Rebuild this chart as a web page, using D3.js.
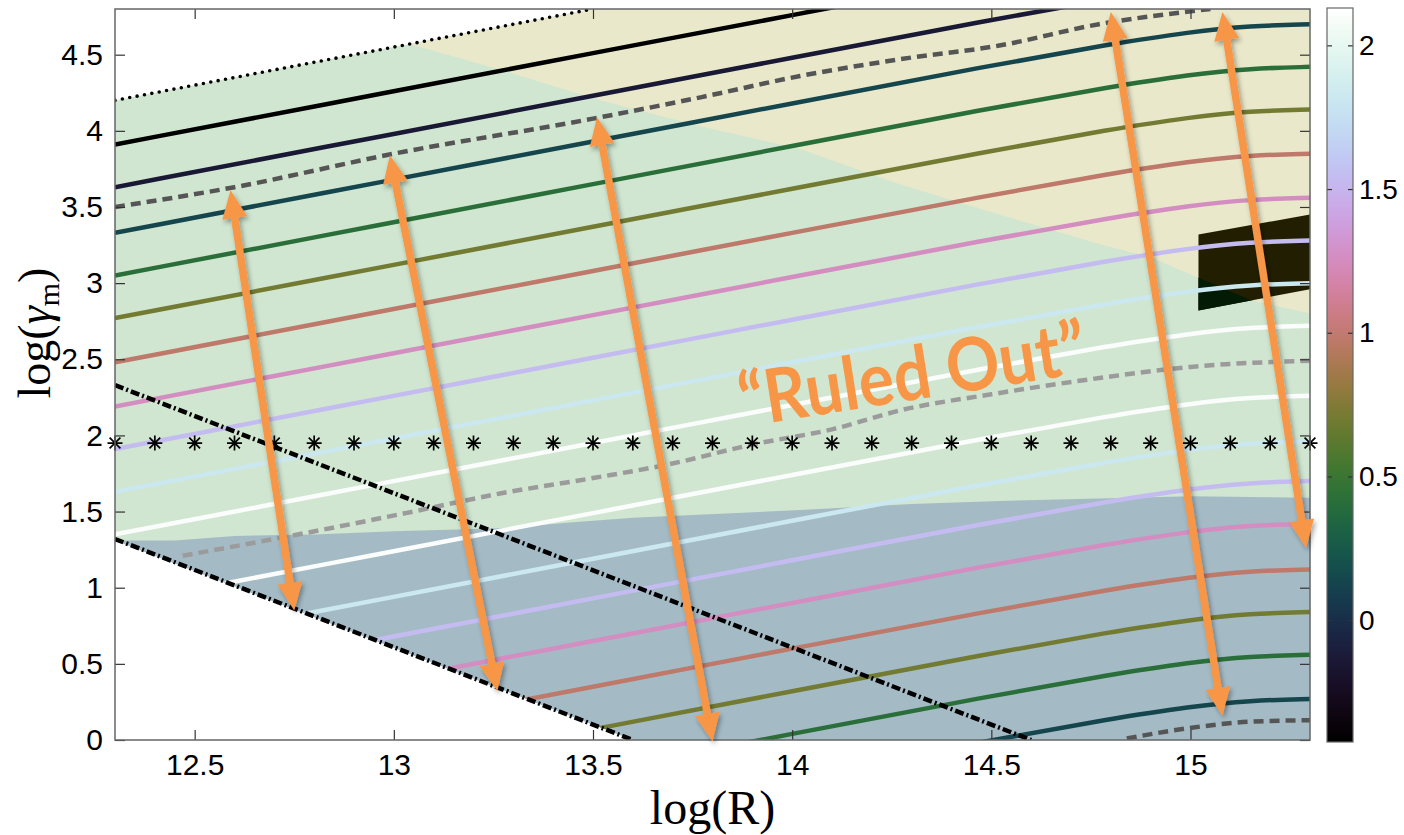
<!DOCTYPE html>
<html>
<head>
<meta charset="utf-8">
<script src="https://cdn.jsdelivr.net/npm/d3@7"></script>
<style>
  body { margin: 0; background: #fff; }
  svg { display: block; }
</style>
</head>
<body>
<div id="chart"></div>
<script>
// ---- data ----
const xTicks = [12.5, 13, 13.5, 14, 14.5, 15];
const yTicks = [0, 0.5, 1, 1.5, 2, 2.5, 3, 3.5, 4, 4.5];
const cTicks = [0, 0.5, 1, 1.5, 2];
const cRange = [-0.424, 2.13];

// contour lines: colour value + logGamma at the shared logR grid
const xGrid = [12.3, 13.0, 13.5, 14.0, 14.5, 14.8, 15.0, 15.15, 15.3];
const contourLevels = [-0.42, -0.14, 0.14, 0.42, 0.70, 0.98, 1.26, 1.54, 1.82, 2.10,
                       2.10, 1.82, 1.54, 1.26, 0.98, 0.70, 0.42, 0.14];
const contourY = [
  [3.91, 4.26, 4.51, 4.76, 5.01, 5.15, 5.23, 5.27, 5.28],
  [3.63, 3.98, 4.23, 4.48, 4.73, 4.87, 4.95, 4.99, 5.00],
  [3.33, 3.68, 3.93, 4.18, 4.43, 4.57, 4.65, 4.69, 4.70],
  [3.05, 3.40, 3.65, 3.90, 4.15, 4.29, 4.37, 4.41, 4.42],
  [2.77, 3.12, 3.37, 3.62, 3.87, 4.01, 4.09, 4.13, 4.14],
  [2.48, 2.83, 3.08, 3.33, 3.58, 3.72, 3.80, 3.84, 3.85],
  [2.19, 2.54, 2.79, 3.04, 3.29, 3.43, 3.51, 3.55, 3.56],
  [1.91, 2.26, 2.51, 2.76, 3.01, 3.15, 3.23, 3.27, 3.28],
  [1.63, 1.98, 2.23, 2.48, 2.73, 2.87, 2.95, 2.99, 3.00],
  [1.35, 1.70, 1.95, 2.20, 2.45, 2.59, 2.67, 2.71, 2.72],
  [0.89, 1.24, 1.49, 1.74, 1.99, 2.13, 2.21, 2.25, 2.26],
  [0.59, 0.94, 1.19, 1.44, 1.69, 1.83, 1.91, 1.95, 1.96],
  [0.33, 0.68, 0.93, 1.18, 1.43, 1.57, 1.65, 1.69, 1.70],
  [0.05, 0.40, 0.65, 0.90, 1.15, 1.29, 1.37, 1.41, 1.42],
  [-0.25, 0.10, 0.35, 0.60, 0.85, 0.99, 1.07, 1.11, 1.12],
  [-0.53, -0.18, 0.07, 0.32, 0.57, 0.71, 0.79, 0.83, 0.84],
  [-0.81, -0.46, -0.21, 0.04, 0.29, 0.43, 0.51, 0.55, 0.56],
  [-1.10, -0.75, -0.50, -0.25, 0.00, 0.14, 0.22, 0.26, 0.27]
];

const dashedDark = [
  [[12.3, 3.50], [12.6, 3.63], [13.0, 3.85], [13.5, 4.08], [13.77, 4.22], [14.02, 4.36],
   [14.27, 4.47], [14.52, 4.56], [14.77, 4.70], [15.05, 4.80]],
  [[14.84, 0.01], [15.03, 0.09], [15.15, 0.12], [15.3, 0.13]]
];
const dashedLight = [
  [12.47, 1.21], [12.78, 1.36], [13.03, 1.49], [13.27, 1.62], [13.5, 1.72], [13.69, 1.81],
  [13.9, 1.94], [14.1, 2.04], [14.28, 2.17], [14.5, 2.27], [14.78, 2.38], [15.0, 2.45], [15.3, 2.49]
];

const dashDotUpper = [[12.3, 2.33], [14.6, 0]];
const dashDotLower = [[12.3, 1.32], [13.6, 0]];
const dottedLine = [[12.3, 4.2], [13.5, 4.8]];

const beigeEdge = [
  [13.04, 4.57], [13.27, 4.40], [13.52, 4.20], [13.77, 4.03], [14.02, 3.88], [14.27, 3.65],
  [14.52, 3.45], [14.78, 3.25], [14.9, 3.17], [15.15, 2.89], [15.3, 2.80]
];
const blueEdge = [
  [12.3, 1.31], [12.45, 1.31], [12.6, 1.34], [12.8, 1.35], [13.0, 1.37], [13.27, 1.39],
  [13.45, 1.43], [13.6, 1.46], [14.02, 1.51], [14.3, 1.55], [14.52, 1.57], [15.0, 1.60], [15.3, 1.59]
];
const boxCorners = [[15.02, 3.32], [15.3, 3.45], [15.3, 2.96], [15.02, 2.82]];

const starX = [12.3, 12.4, 12.5, 12.6, 12.7, 12.8, 12.9, 13.0, 13.1, 13.2, 13.3, 13.4, 13.5,
               13.6, 13.7, 13.8, 13.9, 14.0, 14.1, 14.2, 14.3, 14.4, 14.5, 14.6, 14.7, 14.8,
               14.9, 15.0, 15.1, 15.2, 15.3];
const starY = 1.95;

// double arrows: [logR top, logGamma top, logR bottom, logGamma bottom]
const arrows = [
  [12.59, 3.61, 12.75, 0.85],
  [12.99, 3.84, 13.26, 0.32],
  [13.51, 4.09, 13.80, -0.01],
  [14.80, 4.78, 15.08, 0.16],
  [15.08, 4.78, 15.29, 1.26]
];
const note = { text: "\u201CRuled Out\u201D", x: 14.30, y: 2.42 };

class ContourChart {
  constructor(_config) {
    this.config = {
      parentElement: _config.parentElement,
      containerWidth: _config.containerWidth || 1404,
      containerHeight: _config.containerHeight || 835,
      margin: _config.margin || { top: 9, right: 94, bottom: 95, left: 115 }
    };
    this.initVis();
    this.renderVis();
  }

  initVis() {
    let vis = this;
    vis.width = vis.config.containerWidth - vis.config.margin.left - vis.config.margin.right;
    vis.height = vis.config.containerHeight - vis.config.margin.top - vis.config.margin.bottom;

    vis.svg = d3.select(vis.config.parentElement).append('svg')
      .attr('width', vis.config.containerWidth)
      .attr('height', vis.config.containerHeight);

    vis.defs = vis.svg.append('defs');
    vis.chartG = vis.svg.append('g')
      .attr('transform', `translate(${vis.config.margin.left},${vis.config.margin.top})`);

    vis.xScale = d3.scaleLinear().domain([12.3, 15.3]).range([0, vis.width]);
    vis.yScale = d3.scaleLinear().domain([0, 4.8]).range([vis.height, 0]);
    vis.colorScale = d3.scaleSequential(d3.interpolateCubehelixDefault).domain(cRange);

    vis.line = d3.line()
      .x(d => vis.xScale(d[0]))
      .y(d => vis.yScale(d[1]));
  }

  renderVis() {
    let vis = this;
    const x = vis.xScale, y = vis.yScale;
    const poly = pts => 'M' + pts.map(d => `${x(d[0])},${y(d[1])}`).join('L') + 'Z';

    // clip paths
    vis.defs.append('clipPath').attr('id', 'plotClip')
      .append('rect').attr('width', vis.width).attr('height', vis.height);
    const above = [dashDotLower[0], [12.3, 4.8], [15.3, 4.8], [15.3, 0], dashDotLower[1]];
    vis.defs.append('clipPath').attr('id', 'lineClip')
      .append('path').attr('d', poly(above));
    vis.defs.append('clipPath').attr('id', 'boxClip')
      .append('path').attr('d', poly(boxCorners));

    const shadow = vis.defs.append('filter').attr('id', 'shadow')
      .attr('x', '-50%').attr('y', '-10%').attr('width', '200%').attr('height', '120%');
    shadow.append('feDropShadow').attr('dx', 2).attr('dy', 3)
      .attr('stdDeviation', 2.5).attr('flood-color', '#000').attr('flood-opacity', 0.35);

    const plotG = vis.chartG.append('g').attr('clip-path', 'url(#plotClip)');

    // shaded regions
    const greenPoly = [dashDotLower[0], dottedLine[0], dottedLine[1], [15.3, 4.8], [15.3, 0], dashDotLower[1]];
    plotG.append('path').attr('d', poly(greenPoly)).attr('fill', '#d0e6d0');
    plotG.append('path').attr('d', poly(beigeEdge.concat([[15.3, 4.8], [13.5, 4.8]]))).attr('fill', '#eae8ca');
    plotG.append('path').attr('d', poly(blueEdge.concat([[15.3, 0], dashDotLower[1]]))).attr('fill', '#a4bbc6');

    // dark box on the right
    plotG.append('path').attr('d', poly(boxCorners)).attr('fill', '#221e02');
    plotG.append('path')
      .attr('d', poly(beigeEdge.concat([[15.3, 0], [14.5, 0]])))
      .attr('clip-path', 'url(#boxClip)')
      .attr('fill', '#031a04');

    // contour lines
    const linesG = plotG.append('g').attr('clip-path', 'url(#lineClip)');
    const contourLine = d3.line()
      .x((d, i) => x(xGrid[i]))
      .y(d => y(d))
      .curve(d3.curveBasis);
    linesG.selectAll('.contour')
      .data(contourY)
      .join('path')
      .attr('class', 'contour')
      .attr('d', contourLine)
      .attr('fill', 'none')
      .attr('stroke', (d, i) => vis.colorScale(contourLevels[i]))
      .attr('stroke-width', 4.5);

    // dashed curves
    const smooth = d3.line().x(d => x(d[0])).y(d => y(d[1])).curve(d3.curveMonotoneX);
    linesG.selectAll('.dash-dark')
      .data(dashedDark)
      .join('path')
      .attr('class', 'dash-dark')
      .attr('d', smooth)
      .attr('fill', 'none')
      .attr('stroke', '#555')
      .attr('stroke-width', 4.5)
      .attr('stroke-dasharray', '10,6');
    linesG.append('path')
      .attr('d', smooth(dashedLight))
      .attr('fill', 'none')
      .attr('stroke', '#9b9b9b')
      .attr('stroke-width', 4.5)
      .attr('stroke-dasharray', '10,6');

    // dash-dot and dotted bounds
    plotG.selectAll('.dashdot')
      .data([dashDotUpper, dashDotLower])
      .join('path')
      .attr('class', 'dashdot')
      .attr('d', vis.line)
      .attr('fill', 'none')
      .attr('stroke', '#000')
      .attr('stroke-width', 4.5)
      .attr('stroke-dasharray', '9,3,2,3');
    plotG.append('path')
      .attr('d', vis.line(dottedLine))
      .attr('fill', 'none')
      .attr('stroke', '#000')
      .attr('stroke-width', 3.6)
      .attr('stroke-linecap', 'round')
      .attr('stroke-dasharray', '0,7.5');

    // asterisk markers
    const r = 7.5, q = r * 0.72;
    const star = `M0,${-r}L0,${r}M${-r},0L${r},0M${-q},${-q}L${q},${q}M${-q},${q}L${q},${-q}`;
    vis.chartG.selectAll('.star')
      .data(starX)
      .join('path')
      .attr('class', 'star')
      .attr('transform', d => `translate(${x(d)},${y(starY)})`)
      .attr('d', star)
      .attr('stroke', '#000')
      .attr('stroke-width', 1.7)
      .attr('fill', 'none');

    // axes (MATLAB style, ticks inside on all four sides)
    const axisColor = '#666';
    const tickFont = '"Liberation Sans", Arial, Helvetica, sans-serif';
    const styleAxis = g => {
      g.selectAll('.domain').remove();
      g.selectAll('.tick line').attr('stroke', '#333').attr('stroke-width', 1.2);
      g.selectAll('.tick text').attr('fill', '#000').style('font-family', tickFont).style('font-size', '30px');
    };
    vis.chartG.append('g')
      .attr('transform', `translate(0,${vis.height})`)
      .call(d3.axisBottom(x).tickValues(xTicks).tickFormat(d3.format('')).tickSize(-10).tickPadding(14))
      .call(styleAxis);
    vis.chartG.append('g')
      .call(d3.axisTop(x).tickValues(xTicks).tickFormat('').tickSize(-10))
      .call(styleAxis);
    vis.chartG.append('g')
      .call(d3.axisLeft(y).tickValues(yTicks).tickFormat(d3.format('')).tickSize(-10).tickPadding(12))
      .call(styleAxis);
    vis.chartG.append('g')
      .attr('transform', `translate(${vis.width},0)`)
      .call(d3.axisRight(y).tickValues(yTicks).tickFormat('').tickSize(-10))
      .call(styleAxis);
    vis.chartG.append('rect')
      .attr('width', vis.width).attr('height', vis.height)
      .attr('fill', 'none').attr('stroke', axisColor).attr('stroke-width', 1.5);

    // double-headed arrows
    const arrowG = vis.chartG.append('g').attr('filter', 'url(#shadow)');
    const hl = 28, hw = 12.5;
    arrows.forEach(a => {
      const p1 = [x(a[0]), y(a[1])], p2 = [x(a[2]), y(a[3])];
      const len = Math.hypot(p2[0] - p1[0], p2[1] - p1[1]);
      const ux = (p2[0] - p1[0]) / len, uy = (p2[1] - p1[1]) / len;
      const nx = -uy, ny = ux;
      const g = arrowG.append('g');
      g.append('line')
        .attr('x1', p1[0] + ux * hl * 0.8).attr('y1', p1[1] + uy * hl * 0.8)
        .attr('x2', p2[0] - ux * hl * 0.8).attr('y2', p2[1] - uy * hl * 0.8)
        .attr('stroke', '#f79646').attr('stroke-width', 7.5);
      [[p1, 1], [p2, -1]].forEach(([p, s]) => {
        const bx = p[0] + s * ux * hl, by = p[1] + s * uy * hl;
        g.append('path')
          .attr('d', `M${p[0]},${p[1]}L${bx + nx * hw},${by + ny * hw}L${bx - nx * hw},${by - ny * hw}Z`)
          .attr('fill', '#f79646');
      });
    });

    // annotation
    vis.chartG.append('text')
      .attr('transform', `translate(${x(note.x)},${y(note.y)}) rotate(-9)`)
      .attr('text-anchor', 'middle')
      .attr('dominant-baseline', 'central')
      .attr('fill', '#f79646')
      .attr('textLength', 350)
      .attr('lengthAdjust', 'spacingAndGlyphs')
      .style('font-family', 'Lato, "Open Sans", sans-serif')
      .style('font-weight', 700)
      .style('font-size', '74px')
      .text(note.text);

    // axis titles
    const serif = '"Liberation Serif", "Times New Roman", serif';
    vis.svg.append('text')
      .attr('x', vis.config.margin.left + vis.width / 2)
      .attr('y', 824)
      .attr('text-anchor', 'middle')
      .style('font-family', serif)
      .style('font-size', '48px')
      .text('log(R)');
    const yl = vis.svg.append('text')
      .attr('transform', `translate(50,${vis.config.margin.top + 324}) rotate(-90)`)
      .attr('text-anchor', 'middle')
      .style('font-family', serif)
      .style('font-size', '46px');
    yl.append('tspan').text('log(');
    yl.append('tspan').style('font-style', 'italic').text('\u03B3');
    yl.append('tspan').attr('dy', 9).style('font-size', '30px').text('m');
    yl.append('tspan').attr('dy', -9).text(')');

    // colour bar
    const cb = { x: 1327, y: 8, w: 26, h: 734 };
    const cScale = d3.scaleLinear().domain(cRange).range([cb.h, 0]);
    const grad = vis.defs.append('linearGradient').attr('id', 'cbGrad')
      .attr('x1', 0).attr('y1', 1).attr('x2', 0).attr('y2', 0);
    d3.range(0, 1.0001, 0.02).forEach(t => {
      grad.append('stop').attr('offset', t)
        .attr('stop-color', d3.interpolateCubehelixDefault(t));
    });
    const cbG = vis.svg.append('g').attr('transform', `translate(${cb.x},${cb.y})`);
    cbG.append('rect').attr('width', cb.w).attr('height', cb.h).attr('fill', 'url(#cbGrad)');
    cbG.append('g')
      .attr('transform', `translate(${cb.w},0)`)
      .call(d3.axisRight(cScale).tickValues(cTicks).tickFormat(d3.format('')).tickSize(-5).tickPadding(6))
      .call(styleAxis)
      .call(g => g.selectAll('.tick text').style('font-size', '28px'));
    cbG.append('g')
      .call(d3.axisLeft(cScale).tickValues(cTicks).tickFormat('').tickSize(-5))
      .call(styleAxis);
    cbG.append('rect').attr('width', cb.w).attr('height', cb.h)
      .attr('fill', 'none').attr('stroke', axisColor).attr('stroke-width', 1.2);

    return vis.svg.node();
  }
}

new ContourChart({ parentElement: '#chart' });
</script>
</body>
</html>
